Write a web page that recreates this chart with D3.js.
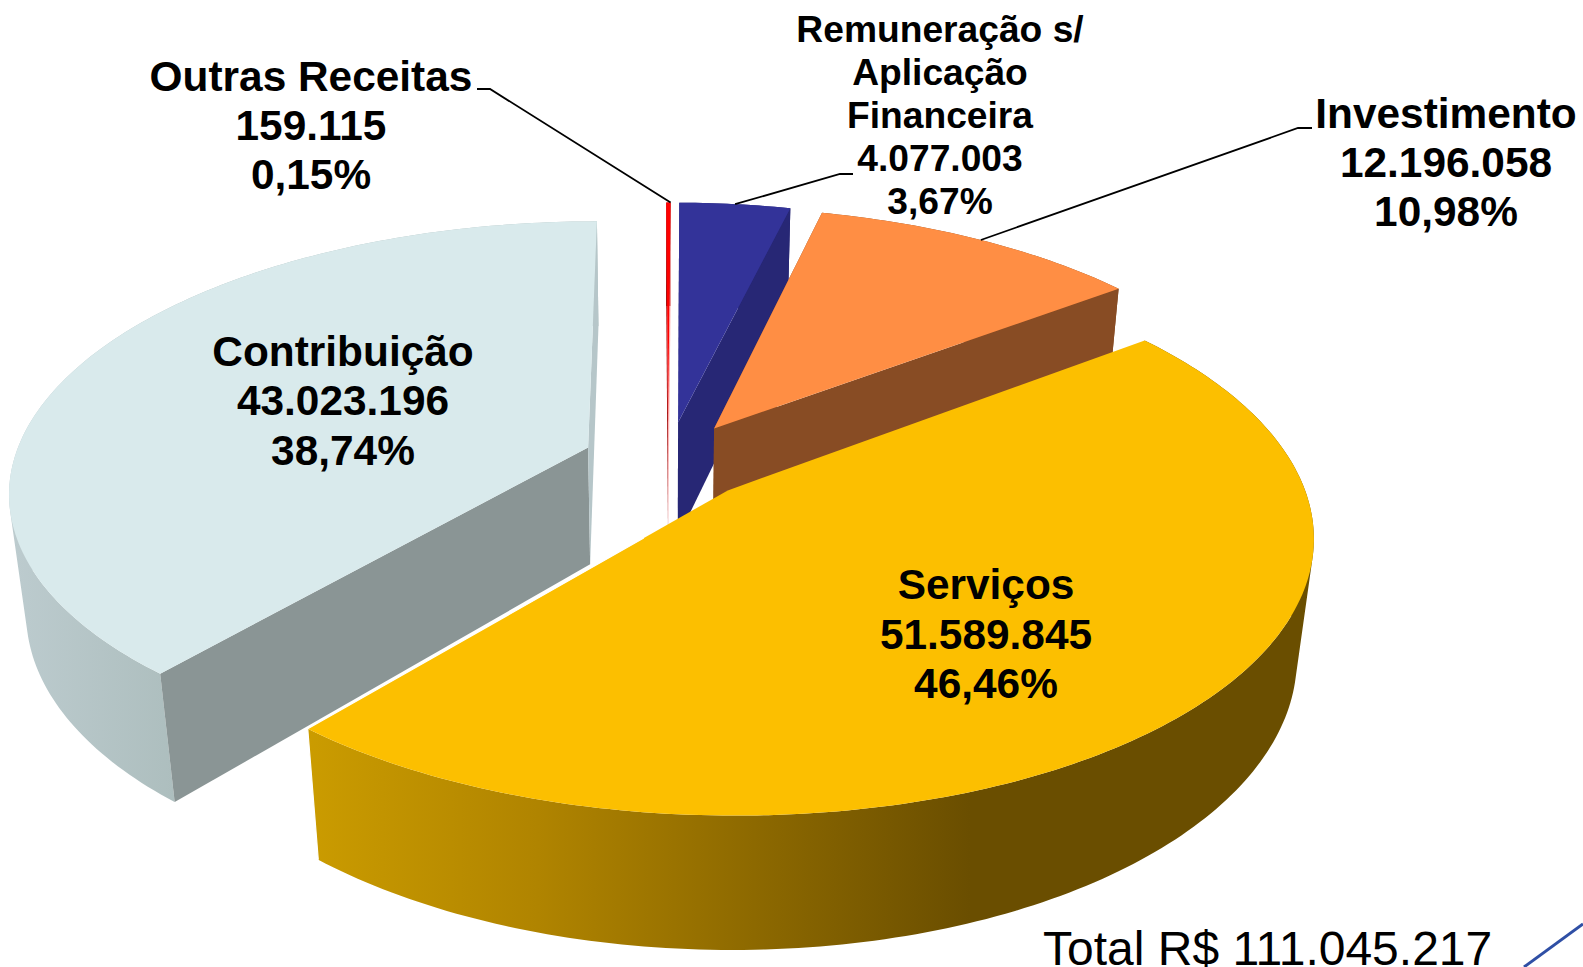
<!DOCTYPE html>
<html><head><meta charset="utf-8">
<style>html,body{margin:0;padding:0;background:#fff;overflow:hidden}svg{display:block}text{font-family:"Liberation Sans",Arial,sans-serif;fill:#000}</style>
<script src="https://cdn.jsdelivr.net/npm/d3@7/dist/d3.min.js"></script></head><body>
<svg id="c" width="1583" height="967" xmlns="http://www.w3.org/2000/svg"></svg>
<script>
// --- data ---
const categories = ["Remuneração s/ Aplicação Financeira","Investimento","Serviços","Contribuição","Outras Receitas"];
const values = [4077003,12196058,51589845,43023196,159115];
const percents = ["3,67%","10,98%","46,46%","38,74%","0,15%"];
const nameLines = [["Remuneração s/","Aplicação","Financeira"],["Investimento"],["Serviços"],["Contribuição"],["Outras Receitas"]];
const totalLabel = "Total R$ 111.045.217";
// --- styling ---
const topColors = ["#333399","#ff8e44","#fcbf00","#d9eaec","#ff0000"];
const cutColors = ["#272775","#884c24","#8a6800","#8a9595","#a00000"];
const endCutColors = ["#272775","#884c24","#8a6800","#b6c6c9","#ffb0b0"];
const wallColors = ["#272775","#884c24","url(#gYellow)","url(#gLight)","#a00000"];
const drawOrder = [4,0,1,3,2];
// --- layout of labels: [centre x, first baseline, font size, line step] ---
const labelLayout = [[940,42,37.2,43],[1446,128,42.4,49],[986,599,42.4,49.5],[343,365.5,42.4,49.5],[311,90.5,42.4,49]];
const leaders = [
 {i:0,f:.5,path:[[840,174],[853,174]]},
 {i:1,f:.5,path:[[1298,128],[1312,128]]},
 {i:4,f:1,path:[[490,89],[477,89]]}
];
// --- projection of the tilted, exploded pie ---
const P={Ox:668,Oy:461,A:571,D:264.9,E:119.4,g:.005,h:.155,kx:.026,ky:.0165,explode:.15};
function project(x,y,z){
  const w=1+P.g*x+P.h*y;
  return [P.Ox+P.A*x/(w+P.kx*z), P.Oy+(-P.D*y+P.E*z)/(w+P.ky*z)];
}
const pie=d3.pie().sort(null).startAngle(0.3*Math.PI/180).endAngle(0.3*Math.PI/180+2*Math.PI);
const arcs=pie(values);
const line=d3.line();
const svg=d3.select("#c");
const defs=svg.append("defs");
function grad(id,x1,x2,stops){
  const g=defs.append("linearGradient").attr("id",id).attr("gradientUnits","userSpaceOnUse").attr("x1",x1).attr("x2",x2).attr("y1",0).attr("y2",0);
  stops.forEach(s=>g.append("stop").attr("offset",s[0]).attr("stop-color",s[1]));
}
grad("gYellow",305,970,[[0,"#cb9c00"],[.35,"#b08400"],[1,"#6a4e00"]]);
grad("gLight",15,175,[[0,"#bccbce"],[1,"#adbebe"]]);

function pt(d,ang,r,z){
  const mid=(d.startAngle+d.endAngle)/2;
  const x=P.explode*Math.sin(mid)+r*Math.sin(ang), y=P.explode*Math.cos(mid)+r*Math.cos(ang);
  return project(x,y,z);
}
function arcPts(d,z){
  const n=Math.max(4,Math.ceil((d.endAngle-d.startAngle)*60));
  return d3.range(n+1).map(j=>pt(d,d.startAngle+(d.endAngle-d.startAngle)*j/n,1,z));
}
// outer wall as a swept strip: one consistently wound quad per arc step
function wallPath(top,bot){
  return d3.range(top.length-1).map(j=>{
    const q=[top[j],top[j+1],bot[j+1],bot[j]];
    return line(d3.polygonArea(q)<0?q.reverse():q)+"Z";
  }).join("");
}
drawOrder.forEach(i=>{
  const d=arcs[i], g=svg.append("g").attr("class","slice");
  const top=arcPts(d,0), bot=arcPts(d,1);
  const c0=pt(d,d.startAngle,0,0), c1=pt(d,d.startAngle,0,1);
  g.append("path").attr("d",wallPath(top,bot)).attr("fill",wallColors[i]);
  if(i!==2){
    g.append("path").attr("d",line([c0,top[0],bot[0],c1])+"Z").attr("fill",cutColors[i]);
    g.append("path").attr("d",line([c0,top[top.length-1],bot[bot.length-1],c1])+"Z").attr("fill",endCutColors[i]);
  }
  g.append("path").attr("d",line([c0,...top])+"Z").attr("fill",topColors[i]);
  if(i===2){
    // thin white edge where the large slice overlaps its neighbour
    const e=top[top.length-1], eb=bot[bot.length-1];
    const stop=[e[0]+(c0[0]-e[0])*.8, e[1]+(c0[1]-e[1])*.8];
    g.append("path").attr("d",line([eb,e,stop])).attr("fill","none").attr("stroke","#fff").attr("stroke-width",1.2);
  }
});
// leaders
leaders.forEach(l=>{
  const d=arcs[l.i], a=d.startAngle+(d.endAngle-d.startAngle)*l.f;
  svg.append("path").attr("d",line([pt(d,a,1,0),...l.path])).attr("fill","none").attr("stroke","#000").attr("stroke-width",1.8);
});
// labels
const fmt=d3.formatLocale({decimal:",",thousands:".",grouping:[3],currency:["R$",""]}).format(",d");
categories.forEach((c,i)=>{
  const [x,y,fs,step]=labelLayout[i];
  const lines=[...nameLines[i],fmt(values[i]),percents[i]];
  const t=svg.append("text").attr("text-anchor","middle").attr("font-weight","bold").attr("font-size",fs);
  lines.forEach((s,j)=>t.append("tspan").attr("x",x).attr("y",y+j*step).text(s));
});
svg.append("text").attr("x",1043).attr("y",965).attr("font-size",48).text(totalLabel);
svg.append("path").attr("d",line([[1524,967],[1583,924]])).attr("stroke","#2f4fa5").attr("stroke-width",3).attr("fill","none");
</script></body></html>
